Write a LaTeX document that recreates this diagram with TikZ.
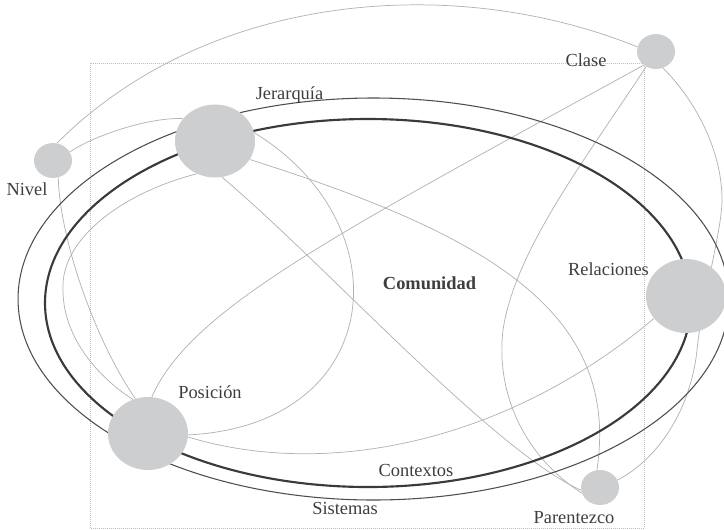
\documentclass[tikz,border=0pt]{standalone}
\usepackage{fontspec}
\setmainfont{Liberation Serif}
\usetikzlibrary{shapes.geometric}
\definecolor{circfill}{RGB}{205,206,208}
\definecolor{thingray}{RGB}{178,178,178}
\definecolor{darkline}{RGB}{58,58,58}
\definecolor{outerline}{RGB}{78,78,78}
\definecolor{txtcol}{RGB}{62,62,62}
\definecolor{rectcol}{RGB}{190,190,190}
\pgfdeclarelayer{bg}
\pgfsetlayers{bg,main}
\begin{document}
\begin{tikzpicture}[x=0.75pt,y=-0.75pt,
  bigdot/.style={ellipse,fill=circfill,draw=none,inner sep=0pt,minimum width=60pt,minimum height=54.75pt},
  smalldot/.style={ellipse,fill=circfill,draw=none,inner sep=0pt,minimum width=28.5pt,minimum height=26.25pt},
  lbl/.style={inner sep=0pt,anchor=base,text=txtcol,font=\fontsize{13.8}{16}\selectfont},
  link/.style={draw=thingray,line width=0.55pt},
  contexto/.style={draw=darkline,line width=1.6pt},
  sistema/.style={draw=outerline,line width=0.8pt},
  frame/.style={draw=rectcol,line width=0.5pt,dash pattern=on 0.6pt off 0.9pt}]
\useasboundingbox (0,0) rectangle (724,529);
\clip (0,0) rectangle (724,529);

% circles
\node[bigdot] (jer) at (215,141) {};
\node[bigdot] (pos) at (148,433.5) {};
\node[bigdot,minimum height=55.5pt] (rel) at (686,296) {};
\node[smalldot] (cla) at (656,51.5) {};
\node[smalldot] (niv) at (53,160.5) {};
\node[smalldot] (par) at (600,487.5) {};

% labels
\node[lbl] (lcla) at (586,66.5) {Clase};
\node[lbl] (ljer) at (289.5,99.5) {Jerarquía};
\node[lbl] (lniv) at (27,195.5) {Nivel};
\node[lbl,font=\fontsize{13.8}{16}\selectfont\bfseries] (lcom) at (429.5,289) {Comunidad};
\node[lbl] (lrel) at (608.5,275) {Relaciones};
\node[lbl] (lpos) at (210,398) {Posición};
\node[lbl] (lcon) at (416,476.5) {Contextos};
\node[lbl] (lsis) at (345,514) {Sistemas};
\node[lbl] (lpar) at (574,523) {Parentezco};

\begin{pgfonlayer}{bg}
\draw[frame] (90,63) rectangle (644,528);

% thin connectors
\draw[link] (niv.77) .. controls (207,-7) and (452,-28) .. (cla.166);
\draw[link] (niv.27) .. controls (95,135) and (150,117) .. (jer.145);
\draw[link] (niv.-73) .. controls (60,240) and (95,340) .. (pos.110);
\draw[link] (jer.241) .. controls (125,192) and (60,238) .. (63,290)
   .. controls (63,335) and (95,375) .. (pos.114);
\draw[link] (jer.12) .. controls (405,225) and (385,425) .. (pos.-2);
\draw[link] (jer.-28) .. controls (485,234) and (621,311) .. (par.100);
\draw[link] (jer.-79) .. controls (322,261) and (492,450) .. (par.188);
\draw[link] (cla.228) .. controls (330,237) and (190,310) .. (pos.84);
\draw[link] (cla.-123) .. controls (585,160) and (515,250) .. (503,330)
   .. controls (495,400) and (530,460) .. (par.197);
\draw[link] (cla.-67) .. controls (695,100) and (722,150) .. (722,200)
   .. controls (722,230) and (702,300) .. (697,350)
   .. controls (692,400) and (665,455) .. (par.23);
\draw[link] (rel.215) .. controls (510,440) and (330,480) .. (pos.-5);

% Contextos (inner thick ring)
\draw[contexto] (368,303) ellipse [x radius=242.25pt, y radius=138pt];
% Sistemas (outer ring)
\draw[sistema] (373.5,299) ellipse [x radius=266.6pt, y radius=150.75pt];
\end{pgfonlayer}
\end{tikzpicture}
\end{document}
